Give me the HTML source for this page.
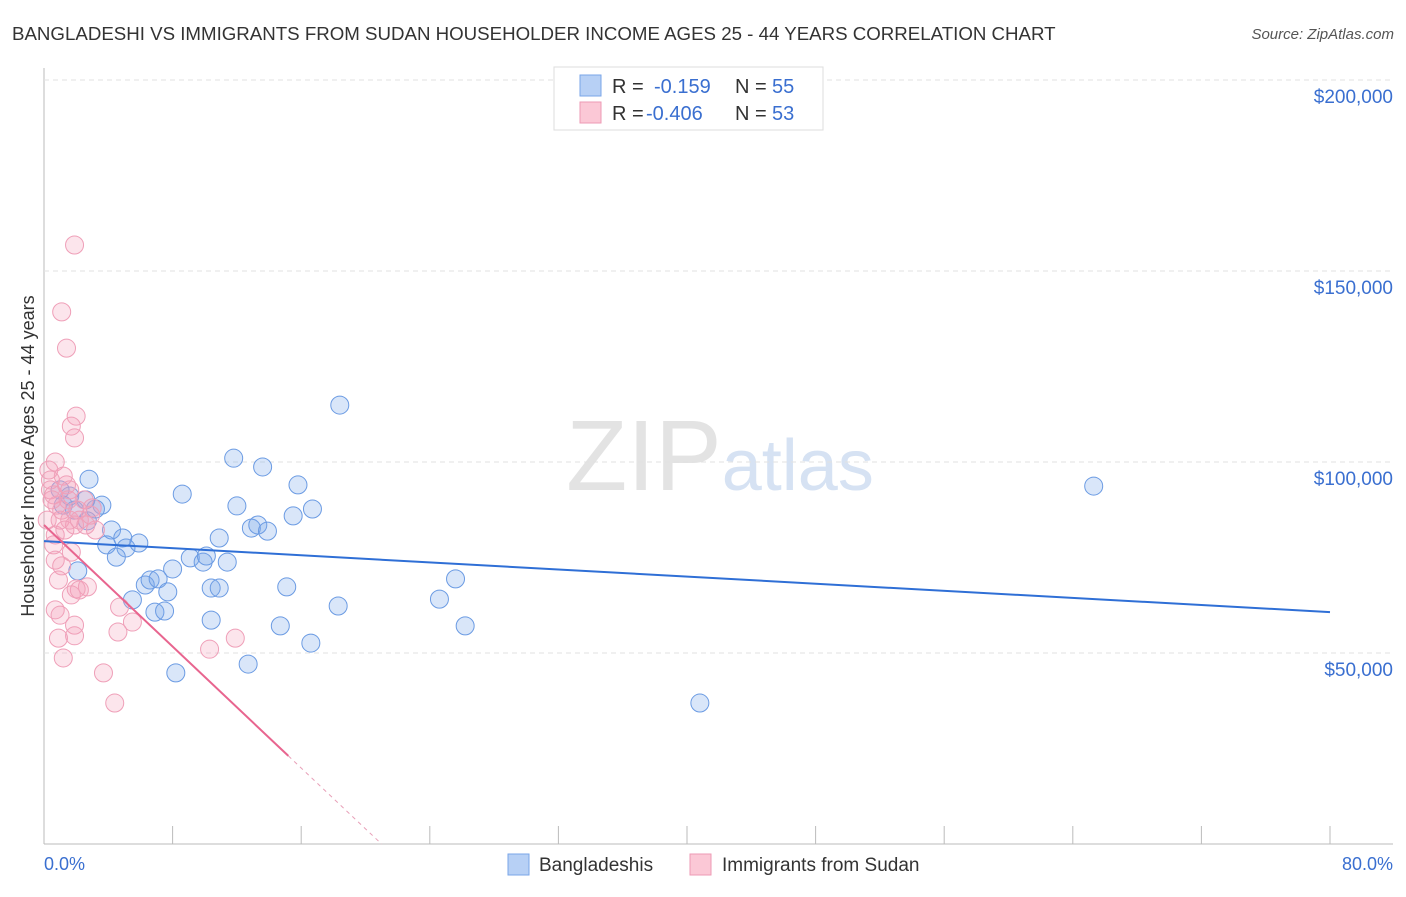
<!DOCTYPE html>
<html><head><meta charset="utf-8"><style>
body{margin:0;background:#fff;width:1406px;height:892px;overflow:hidden;font-family:"Liberation Sans",sans-serif}
svg text{font-family:"Liberation Sans",sans-serif}
</style></head><body>
<svg id="chart" width="1406" height="892" xmlns="http://www.w3.org/2000/svg">
<text x="12" y="40" font-size="18.7" fill="#333">BANGLADESHI VS IMMIGRANTS FROM SUDAN HOUSEHOLDER INCOME AGES 25 - 44 YEARS CORRELATION CHART</text>
<text x="1394" y="39" font-size="15" fill="#555" text-anchor="end" font-style="italic">Source: ZipAtlas.com</text>
<text x="720" y="490" font-size="100" text-anchor="middle" font-family="Liberation Serif"><tspan fill="#e3e3e3">ZIP</tspan><tspan fill="#d6e2f3" font-family="Liberation Sans" font-size="72">atlas</tspan></text>
<text transform="translate(34,456) rotate(-90)" font-size="18" fill="#333" text-anchor="middle">Householder Income Ages 25 - 44 years</text>
<g id="grid"></g><g id="pts"></g><g id="lines"></g>
<g>
<rect x="554" y="67" width="269" height="63" fill="#fff" stroke="#ddd"/>
<rect x="580" y="75" width="21" height="21" fill="#b7d0f5" stroke="#7aa6e8"/>
<rect x="580" y="102" width="21" height="21" fill="#fbc8d6" stroke="#ee9ab4"/>
<text x="612" y="93" font-size="20" fill="#333">R =</text><text x="654" y="93" font-size="20" fill="#3a6fd0">-0.159</text>
<text x="735" y="93" font-size="20" fill="#333">N =</text><text x="772" y="93" font-size="20" fill="#3a6fd0">55</text>
<text x="612" y="120" font-size="20" fill="#333">R =</text><text x="646" y="120" font-size="20" fill="#3a6fd0">-0.406</text>
<text x="735" y="120" font-size="20" fill="#333">N =</text><text x="772" y="120" font-size="20" fill="#3a6fd0">53</text>
</g>
<text x="44" y="870" font-size="18" fill="#3a6fd0">0.0%</text>
<text x="1393" y="870" font-size="18" fill="#3a6fd0" text-anchor="end">80.0%</text>
<g>
<rect x="508" y="854" width="21" height="21" fill="#b7d0f5" stroke="#7aa6e8"/>
<text x="539" y="871" font-size="19" fill="#333">Bangladeshis</text>
<rect x="690" y="854" width="21" height="21" fill="#fbc8d6" stroke="#ee9ab4"/>
<text x="722" y="871" font-size="19" fill="#333">Immigrants from Sudan</text>
</g>
</svg>
<script>
const yTicks=[50,100,150,200];
const yTickLabels=["$50,000","$100,000","$150,000","$200,000"];
const xTicks=[0,8,16,24,32,40,48,56,64,72,80];
const blueX=[2.8,3.6,3.2,1.6,1.2,2.7,4.2,3.9,4.9,5.1,5.9,4.5,2.1,5.5,6.3,6.6,7.1,6.9,7.5,7.7,8.0,8.6,9.1,9.9,10.1,10.9,11.4,10.4,10.9,10.4,8.2,12.7,11.8,13.6,12.0,12.9,13.3,13.9,15.8,15.5,16.7,15.1,14.7,16.6,18.3,18.4,24.6,25.6,26.2,40.8,65.3,1.0,1.9,2.6];
const blueY=[95.5,88.7,87.7,91.1,88.7,84.6,82.2,78.3,80.1,77.5,78.8,75.1,71.5,63.9,67.8,69.1,69.4,60.7,61.0,66.0,72.0,91.6,74.9,73.8,75.4,80.1,73.8,67.0,67.0,58.6,44.8,47.1,101.0,98.7,88.5,82.7,83.5,81.9,94.0,85.9,87.7,67.3,57.1,52.6,62.3,114.9,64.1,69.4,57.1,36.9,93.7,92.7,87.4,90.1];
const pinkX=[1.9,1.1,1.4,2.0,1.7,1.9,0.7,1.2,0.3,0.4,0.6,1.6,0.8,1.1,1.6,1.0,1.9,2.2,3.2,0.7,0.6,1.7,1.1,2.0,1.7,2.7,2.2,0.7,1.0,1.9,1.9,0.9,1.2,3.7,4.4,4.7,4.6,5.5,10.3,11.9,0.4,1.4,2.5,3.0,2.9,1.5,0.5,0.9,1.3,2.1,0.2,0.7,2.6];
const pinkY=[156.8,139.3,129.8,112.0,109.4,106.3,100.0,96.3,97.9,92.7,91.4,92.7,88.7,87.4,84.8,84.8,83.5,84.8,82.2,80.9,78.3,76.4,72.8,66.8,65.2,67.3,66.5,61.3,59.9,57.3,54.5,53.9,48.7,44.8,36.9,62.0,55.5,58.1,51.0,53.9,95.3,94.0,90.1,88.0,86.1,90.1,90.1,69.1,82.2,87.4,84.8,74.3,83.5];
const blueTrend=[79.3,60.7];
const pinkTrend=[83.5,0];
const pinkSolidEnd=15.2;
const X=v=>44+v/80*1286, Y=v=>844-v*3.82;
const NS="http://www.w3.org/2000/svg";
function mk(t,a,p){const e=document.createElementNS(NS,t);for(const k in a)e.setAttribute(k,a[k]);p.appendChild(e);return e;}
const grid=document.getElementById('grid');
mk('line',{x1:44,y1:68,x2:44,y2:844,stroke:'#bbb'},grid);
mk('line',{x1:44,y1:844,x2:1393,y2:844,stroke:'#bbb'},grid);
yTicks.forEach((t,i)=>{
 const l=mk('line',{x1:44,y1:Y(t),x2:1393,y2:Y(t),stroke:'#e2e2e2','stroke-dasharray':'5,4'},grid);
 
 
 const tx=mk('text',{x:1393,y:Y(t)+23,'font-size':19,fill:'#3a6fd0','text-anchor':'end'},grid);
 tx.textContent=yTickLabels[i];
 
 
});
xTicks.forEach(t=>{
 const l=mk('line',{x1:X(t),y1:826,x2:X(t),y2:844,stroke:'#bbb'},grid);
 
 
});
const pts=document.getElementById('pts');
blueX.forEach((x,i)=>{
 const c=mk('circle',{cx:X(x),cy:Y(blueY[i]),r:9,fill:'rgba(120,165,235,0.28)',stroke:'#6b9be3','stroke-width':1},pts);
 
 
});
pinkX.forEach((x,i)=>{
 const c=mk('circle',{cx:X(x),cy:Y(pinkY[i]),r:9,fill:'rgba(245,160,185,0.28)',stroke:'#ef9fb8','stroke-width':1},pts);
 
 
});
const lines=document.getElementById('lines');
const bl=mk('line',{x1:X(0),y1:Y(blueTrend[0]),x2:X(80),y2:Y(blueTrend[1]),stroke:'#2f6fd6','stroke-width':2},lines);


const pAt=x=>pinkTrend[0]+(pinkTrend[1]-pinkTrend[0])*x/21;
const pl=mk('line',{x1:X(0),y1:Y(pAt(0)),x2:X(pinkSolidEnd),y2:Y(pAt(pinkSolidEnd)),stroke:'#e8658f','stroke-width':2},lines);


const pd=mk('line',{x1:X(pinkSolidEnd),y1:Y(pAt(pinkSolidEnd)),x2:X(21),y2:Y(0),stroke:'#e8a0b8','stroke-width':1,'stroke-dasharray':'4,4'},lines);


</script>
</body></html>
